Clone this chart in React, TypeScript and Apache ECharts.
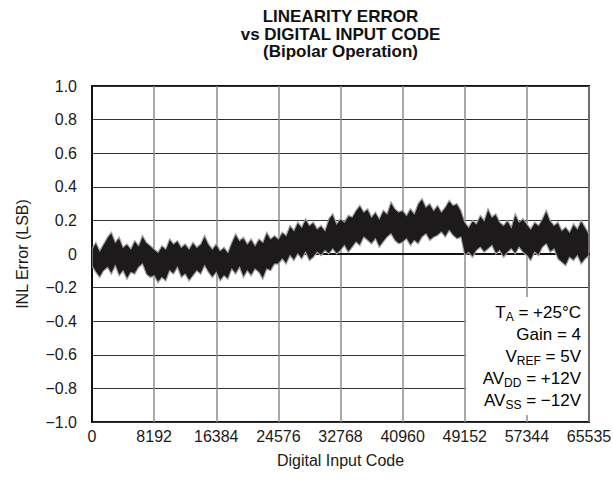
import React, { useEffect, useRef } from "react";
import * as echarts from "echarts";

// x-axis tick positions (digital input codes) and labels
const xTickValues = [0, 8192, 16384, 24576, 32768, 40960, 49152, 57344, 65536];
const xTickLabels = ["0", "8192", "16384", "24576", "32768", "40960", "49152", "57344", "65535"];
const yTickValues = [-1, -0.8, -0.6, -0.4, -0.2, 0, 0.2, 0.4, 0.6, 0.8, 1];
const yTickLabels = ["\u22121.0", "\u22120.8", "\u22120.6", "\u22120.4", "\u22120.2", "0", "0.2", "0.4", "0.6", "0.8", "1.0"];

// sampling step of the envelope readings (codes)
const codeStep = 512;
const lastCode = 65535;

// upper envelope of the INL trace (LSB), one reading every 512 codes
const inlHigh = [
  0.03, 0.07, 0.02, 0.06, 0.10, 0.13, 0.07, 0.10, 0.04, 0.06, 0.03, 0.08, 0.05, 0.11, 0.07, 0.05,
  0.03, 0.01, 0.05, 0.03, 0.09, 0.06, 0.08, 0.04, 0.06, 0.03, 0.07, 0.04, 0.06, 0.11, 0.06, 0.03,
  0.06, 0.02, 0.04, 0.01, 0.07, 0.12, 0.08, 0.10, 0.06, 0.09, 0.05, 0.09, 0.07, 0.13, 0.09, 0.11,
  0.09, 0.13, 0.11, 0.17, 0.14, 0.19, 0.16, 0.21, 0.17, 0.19, 0.15, 0.17, 0.14, 0.21, 0.24, 0.18,
  0.21, 0.19, 0.23, 0.22, 0.26, 0.29, 0.25, 0.27, 0.22, 0.25, 0.21, 0.26, 0.24, 0.31, 0.27, 0.25,
  0.26, 0.23, 0.27, 0.24, 0.30, 0.33, 0.28, 0.30, 0.26, 0.29, 0.25, 0.28, 0.32, 0.29, 0.30, 0.26,
  0.19, 0.16, 0.20, 0.18, 0.23, 0.20, 0.27, 0.22, 0.24, 0.19, 0.17, 0.20, 0.16, 0.24, 0.19, 0.21,
  0.18, 0.15, 0.19, 0.17, 0.21, 0.26, 0.20, 0.17, 0.19, 0.14, 0.16, 0.13, 0.18, 0.15, 0.20, 0.16, 0.12,
];

// lower envelope of the INL trace (LSB)
const inlLow = [
  -0.07, -0.11, -0.14, -0.10, -0.08, -0.12, -0.07, -0.13, -0.10, -0.15, -0.11, -0.12, -0.08, -0.06, -0.12, -0.14,
  -0.13, -0.17, -0.14, -0.16, -0.10, -0.12, -0.08, -0.14, -0.12, -0.16, -0.13, -0.10, -0.12, -0.07, -0.11, -0.14,
  -0.11, -0.16, -0.13, -0.15, -0.09, -0.12, -0.08, -0.14, -0.10, -0.13, -0.09, -0.11, -0.15, -0.09, -0.10, -0.06,
  -0.06, -0.03, -0.06, -0.01, -0.04, 0.00, -0.03, 0.01, -0.04, -0.02, 0.01, -0.01, 0.02, 0.00, 0.03, 0.00,
  0.02, 0.05, 0.01, 0.04, 0.07, 0.05, 0.10, 0.08, 0.06, 0.09, 0.04, 0.07, 0.10, 0.12, 0.08, 0.06,
  0.07, 0.09, 0.05, 0.08, 0.06, 0.10, 0.12, 0.08, 0.10, 0.11, 0.13, 0.10, 0.14, 0.11, 0.09, 0.10,
  -0.01, 0.01, -0.02, 0.02, 0.04, 0.01, 0.03, 0.05, 0.00, 0.02, -0.02, 0.01, 0.03, 0.00, 0.04, 0.01,
  -0.01, -0.04, 0.01, -0.01, 0.04, 0.06, 0.01, 0.03, -0.03, -0.05, -0.07, -0.02, -0.04, -0.01, -0.06, -0.03, -0.01,
];

const inputCodes = inlHigh.map((_, i) => Math.min(i * codeStep, lastCode));

const titleLines = ["LINEARITY ERROR", "vs DIGITAL INPUT CODE", "(Bipolar Operation)"];
const conditionLines = [
  "{n|T}{s|A}{n| = +25°C}",
  "{n|Gain = 4}",
  "{n|V}{s|REF}{n| = 5V}",
  "{n|AV}{s|DD}{n| = +12V}",
  "{n|AV}{s|SS}{n| = \u221212V}",
];

const FONT = "'Liberation Sans', Arial, Helvetica, sans-serif";

function fmtTick(values: number[], labels: string[]) {
  return (v: number) => {
    let best = 0;
    for (let i = 1; i < values.length; i++) {
      if (Math.abs(values[i] - v) < Math.abs(values[best] - v)) best = i;
    }
    return labels[best];
  };
}

export default function App() {
  const ref = useRef<HTMLDivElement>(null);
  useEffect(() => {
    document.body.style.margin = "0";
    const chart = echarts.init(ref.current!, null, { renderer: "svg" });
    const gridLeft = 92;
    const gridRight = 24;
    const gridTop = 86;
    const gridBottom = 65;
    const W = 613;
    const plotCenterX = gridLeft + (W - gridLeft - gridRight) / 2;

    const rich = {
      n: { fontSize: 17, fontFamily: FONT, color: "#1a1a1a", lineHeight: 22, verticalAlign: "middle" },
      s: { fontSize: 12, fontFamily: FONT, color: "#1a1a1a", lineHeight: 12, verticalAlign: "bottom" },
    };

    const option: any = {
      animation: false,
      backgroundColor: "#ffffff",
      grid: {
        left: gridLeft,
        right: gridRight,
        top: gridTop,
        bottom: gridBottom,
        show: true,
        borderColor: "#111",
        borderWidth: 2,
        backgroundColor: "transparent",
        outerBoundsMode: "none",
      },
      xAxis: {
        type: "value",
        min: 0,
        max: 65536,
        interval: 8192,
        name: "Digital Input Code",
        nameLocation: "middle",
        nameGap: 30,
        nameTextStyle: { fontSize: 16, fontFamily: FONT, color: "#1a1a1a" },
        axisLine: { show: true, lineStyle: { color: "#111", width: 2 } },
        axisTick: { show: false },
        axisLabel: {
          fontSize: 16,
          fontFamily: FONT,
          color: "#1a1a1a",
          margin: 6,
          formatter: fmtTick(xTickValues, xTickLabels),
        },
        splitLine: { show: true, lineStyle: { color: "#8c8c8c", width: 1.5 } },
      },
      yAxis: {
        type: "value",
        min: -1,
        max: 1,
        interval: 0.2,
        name: "INL Error (LSB)",
        nameLocation: "middle",
        nameGap: 62,
        nameTextStyle: { fontSize: 16, fontFamily: FONT, color: "#1a1a1a" },
        axisLine: { show: true, lineStyle: { color: "#111", width: 2 } },
        axisTick: { show: false },
        axisLabel: {
          fontSize: 16,
          fontFamily: FONT,
          color: "#1a1a1a",
          margin: 15,
          formatter: fmtTick(yTickValues, yTickLabels),
        },
        splitLine: { show: true, lineStyle: { color: "#333", width: 1 } },
      },
      series: [
        {
          type: "custom",
          coordinateSystem: "cartesian2d",
          clip: true,
          data: [[0, 0]],
          renderItem: (params: any, api: any) => {
            if (params.dataIndex !== 0) return null;
            const pts: number[][] = [];
            for (let i = 0; i < inputCodes.length; i++) pts.push(api.coord([inputCodes[i], inlHigh[i]]));
            for (let i = inputCodes.length - 1; i >= 0; i--) pts.push(api.coord([inputCodes[i], inlLow[i]]));
            return {
              type: "polygon",
              shape: { points: pts },
              style: { fill: "#1c1a1a", stroke: "#a0a0a0", lineWidth: 1.2, lineJoin: "miter" },
            };
          },
          z: 3,
        },
      ],
      graphic: [
        ...titleLines.map((t, i) => ({
          type: "text",
          z: 20,
          x: plotCenterX,
          y: 16.5 + i * 17.5,
          style: {
            text: t,
            fontSize: 17,
            fontWeight: "bold",
            fontFamily: FONT,
            fill: "#111",
            align: "center",
            textAlign: "center",
            verticalAlign: "middle",
            textVerticalAlign: "middle",
          },
        })),
        {
          type: "rect",
          z: 20,
          shape: { x: 466, y: 297, width: 122, height: 118 },
          style: { fill: "#ffffff" },
        },
        ...conditionLines.map((t, i) => ({
          type: "text",
          z: 21,
          x: 581,
          y: 312 + i * 22,
          style: {
            text: t,
            rich,
            align: "right",
            textAlign: "right",
            verticalAlign: "middle",
            textVerticalAlign: "middle",
          },
        })),
      ],
    };
    chart.setOption(option);
    return () => chart.dispose();
  }, []);
  return <div ref={ref} style={{ width: 613, height: 487 }} />;
}
